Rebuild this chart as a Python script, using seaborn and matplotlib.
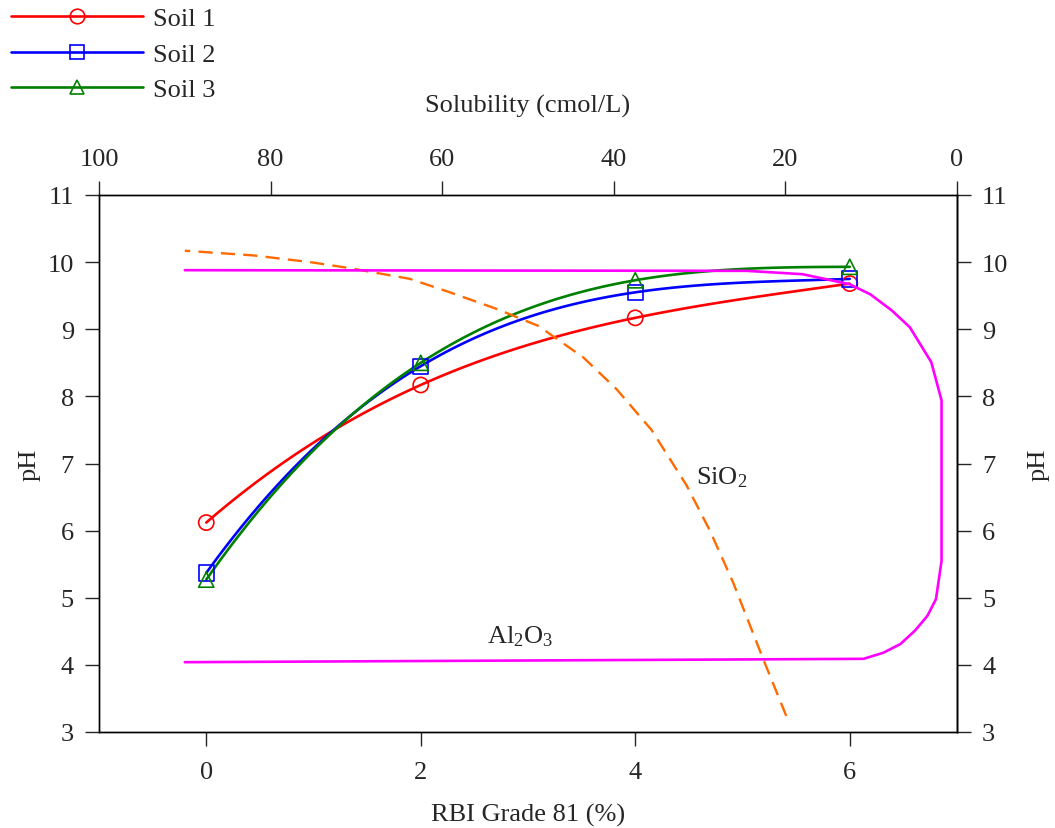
import matplotlib
matplotlib.use("Agg")
import matplotlib.pyplot as plt
from matplotlib.lines import Line2D
import seaborn as sns

# soil titration data (bottom / left axes)
rbi = [0, 2, 4, 6]
soil1 = [6.12, 8.17, 9.17, 9.68]
soil2 = [5.37, 8.45, 9.55, 9.75]
soil3 = [5.27, 8.50, 9.73, 9.93]

# solubility curves (top axis = solubility, y = pH)
sio2_ph = [3.24, 4.09, 5.23, 6.00, 6.67, 7.50, 8.11, 8.58, 9.05, 9.30, 9.55, 9.75, 9.91, 10.00, 10.10, 10.17]
sio2_sol = [19.9, 22.6, 26.1, 28.8, 31.5, 35.6, 39.7, 43.55, 48.8, 53.6, 59.1, 63.75, 70.75, 75.4, 82.0, 90.0]

al_ph = [9.88, 9.87, 9.82, 9.67, 9.52, 9.28, 9.03, 8.51, 7.94, 5.55, 4.98, 4.73, 4.51, 4.31, 4.18, 4.09, 4.04]
al_sol = [90.0, 24.5, 18.0, 12.5, 10.1, 7.6, 5.5, 3.0, 1.8, 1.8, 2.45, 3.45, 4.9, 6.6, 8.6, 10.9, 90.0]

sns.set_style("ticks")
plt.rcParams['font.family'] = ['Liberation Serif', 'DejaVu Serif']
plt.rcParams['mathtext.fontset'] = 'custom'
plt.rcParams['mathtext.rm'] = 'Liberation Serif'
plt.rcParams['mathtext.it'] = 'Liberation Serif:italic'
plt.rcParams['axes.linewidth'] = 1.0
plt.rcParams['axes.edgecolor'] = 'black'

FS = 19

fig = plt.figure(figsize=(10.55, 8.29), dpi=100)
ax = fig.add_axes([99 / 1055, 1 - 733 / 829, (957 - 99) / 1055, (733 - 196) / 829])

soils = [
    (soil1, 'Soil 1', '#ff0000', 'o'),
    (soil2, 'Soil 2', '#0000ff', 's'),
    (soil3, 'Soil 3', '#008000', '^'),
]
handles = []
for vals, name, col, mk in soils:
    sns.regplot(x=rbi, y=vals, order=3, ci=None, ax=ax, color=col, marker=mk,
                scatter_kws=dict(facecolors='none', edgecolors=col, s=120,
                                 linewidths=1.2, alpha=1, zorder=3),
                line_kws=dict(lw=1.9, zorder=2))
    handles.append(Line2D([], [], color=col, lw=1.9, marker=mk, markersize=10.5,
                          markerfacecolor='none', markeredgewidth=1.2, label=name))

ax.set_xlim(-1, 7)
ax.set_ylim(3, 11)
ax.set_xticks([0, 2, 4, 6])
ax.set_yticks(range(3, 12))
ax.tick_params(axis='x', direction='out', length=10, width=1, labelsize=FS, pad=11)
ax.tick_params(axis='y', direction='out', length=10, width=1, labelsize=FS, pad=8)
ax.set_xlabel('RBI Grade 81 (%)', fontsize=FS, labelpad=14)
ax.set_ylabel('pH', fontsize=FS, labelpad=5)

axr = ax.secondary_yaxis('right')
axr.set_yticks(range(3, 12))
axr.tick_params(direction='out', length=10, width=1, labelsize=FS, pad=8)
axr.set_ylabel('pH', fontsize=FS, labelpad=14)

# top axis: solubility
axt = ax.twiny()
sns.lineplot(x=sio2_sol, y=sio2_ph, sort=False, estimator=None, ax=axt,
             color='#ff6a00', lw=1.7, linestyle=(0, (6, 3.5)))
sns.lineplot(x=al_sol, y=al_ph, sort=False, estimator=None, ax=axt,
             color='#ff00ff', lw=1.9)
axt.set_xlim(100, 0)
axt.set_ylim(3, 11)
axt.set_xticks(range(100, -1, -20))
axt.tick_params(axis='x', direction='out', length=10, width=1, labelsize=FS, pad=8)
axt.set_xlabel('Solubility (cmol/L)', fontsize=FS, labelpad=26)
axt.set_ylabel('')

ax.text(4.81, 6.80, 'SiO$_\\mathrm{2}$', fontsize=FS, ha='center', va='center')
ax.text(2.93, 4.43, 'Al$_\\mathrm{2}$O$_\\mathrm{3}$', fontsize=FS, ha='center', va='center')

fig.legend(handles=handles, loc='upper left', bbox_to_anchor=(11 / 1055, 1 - 8 / 829),
           frameon=False, fontsize=FS, handlelength=5.0, handletextpad=0.4,
           labelspacing=0.45, borderpad=0, borderaxespad=0, numpoints=1)

fig.savefig('out.png', dpi=100)
plt.close(fig)
